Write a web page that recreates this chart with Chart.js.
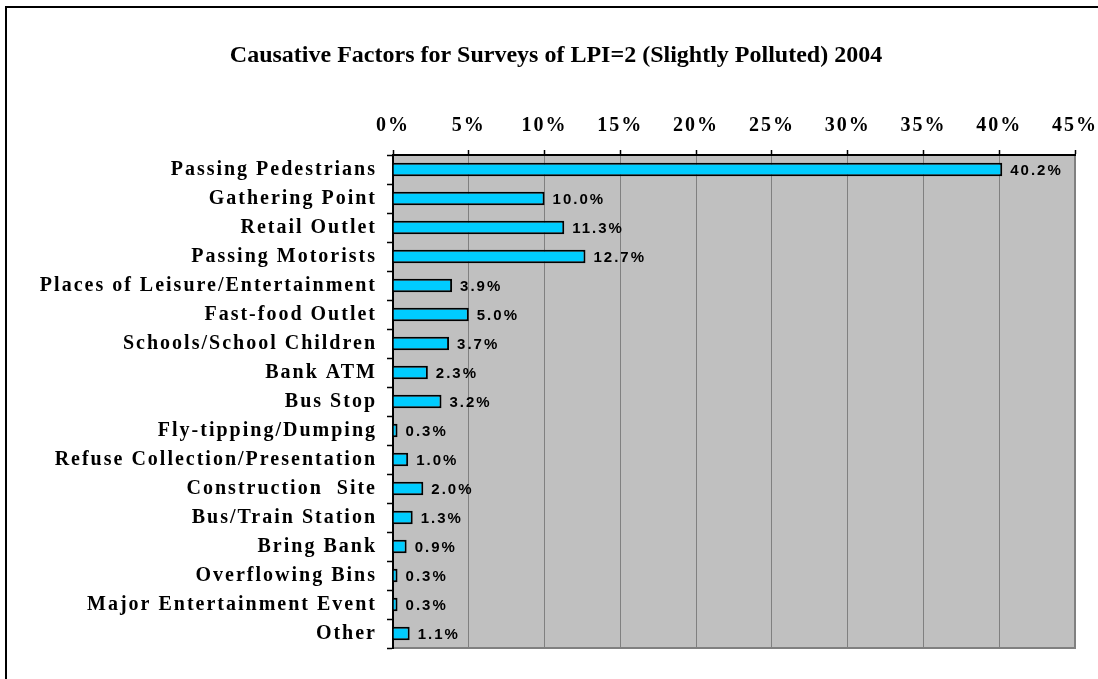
<!DOCTYPE html>
<html>
<head>
<meta charset="utf-8">
<script src="https://cdn.jsdelivr.net/npm/chart.js@4/dist/chart.umd.min.js"></script>
<style>
  html, body { margin: 0; padding: 0; background: #fff; }
  #wrap { width: 1098px; height: 679px; position: relative; }
</style>
</head>
<body>
<div id="wrap"><canvas id="js--chart--1"></canvas></div>
<script>
const categories = [
    "Passing Pedestrians",
    "Gathering Point",
    "Retail Outlet",
    "Passing Motorists",
    "Places of Leisure/Entertainment",
    "Fast-food Outlet",
    "Schools/School Children",
    "Bank ATM",
    "Bus Stop",
    "Fly-tipping/Dumping",
    "Refuse Collection/Presentation",
    "Construction  Site",
    "Bus/Train Station",
    "Bring Bank",
    "Overflowing Bins",
    "Major Entertainment Event",
    "Other",
];

const shares = [40.2, 10.0, 11.3, 12.7, 3.9, 5.0, 3.7, 2.3, 3.2, 0.3, 1.0, 2.0, 1.3, 0.9, 0.3, 0.3, 1.1];

const xTicks = [0, 5, 10, 15, 20, 25, 30, 35, 40, 45];

const titleText = "Causative Factors for Surveys of LPI=2 (Slightly Polluted) 2004";

const serif = "'Liberation Serif', 'Times New Roman', serif";
const sans = "'Liberation Sans', Arial, sans-serif";

// frame, plot background, letter spacing for the axis labels
const backdrop = {
    id: 'backdrop',
    beforeDraw(chart) {
        const ctx = chart.ctx;
        const a = chart.chartArea;
        ctx.save();
        ctx.strokeStyle = '#000';
        ctx.lineWidth = 2;
        ctx.beginPath();
        ctx.moveTo(6, 700);
        ctx.lineTo(6, 7);
        ctx.lineTo(1110, 7);
        ctx.stroke();
        ctx.fillStyle = '#C0C0C0';
        ctx.fillRect(a.left, a.top, a.right - a.left, a.bottom - a.top);
        ctx.strokeStyle = '#808080';
        ctx.lineWidth = 2;
        ctx.beginPath();
        ctx.moveTo(a.left, a.bottom);
        ctx.lineTo(a.right, a.bottom);
        ctx.lineTo(a.right, a.top);
        ctx.stroke();
        ctx.restore();
        ctx.letterSpacing = '2px';
    },
    afterDatasetsDraw(chart) {
        const ctx = chart.ctx;
        const meta = chart.getDatasetMeta(0);
        ctx.save();
        ctx.letterSpacing = '2px';
        ctx.font = 'bold 15px ' + sans;
        ctx.fillStyle = '#000';
        ctx.textAlign = 'left';
        ctx.textBaseline = 'middle';
        meta.data.forEach((bar, i) => {
            ctx.fillText(shares[i].toFixed(1) + '%', bar.x + 8, bar.y + 1);
        });
        ctx.restore();
    },
    afterDraw(chart) {
        const ctx = chart.ctx;
        ctx.save();
        ctx.letterSpacing = '0px';
        ctx.font = 'bold 24px ' + serif;
        ctx.fillStyle = '#000';
        ctx.textAlign = 'center';
        ctx.textBaseline = 'alphabetic';
        ctx.fillText(titleText, 556, 62);
        ctx.restore();
        ctx.letterSpacing = '0px';
    }
};

const data = {
    labels: categories,
    datasets: [
        {
            label: "Share of surveys",
            data: shares,
            backgroundColor: '#00CCFF',
            borderColor: '#000',
            borderWidth: 2,
            borderSkipped: 'start',
            categoryPercentage: 1,
            barPercentage: 0.47,
        }
    ]
};

const config = {
    type: 'bar',
    data: data,
    plugins: [backdrop],
    options: {
        indexAxis: 'y',
        responsive: true,
        maintainAspectRatio: false,
        animation: false,
        layout: { padding: { left: 0, top: 0, right: 23, bottom: 31 } },
        plugins: {
            legend: { display: false },
            title: { display: false },
            tooltip: { enabled: false },
        },
        scales: {
            x: {
                position: 'top',
                min: 0,
                max: 45,
                afterBuildTicks(scale) {
                    scale.ticks = xTicks.map(v => ({ value: v }));
                },
                afterFit(scale) {
                    scale.height = 155;
                    scale.paddingLeft = 0;
                    scale.paddingRight = 0;
                },
                ticks: {
                    callback: v => v + '%',
                    color: '#000',
                    padding: 12,
                    font: { family: serif, size: 20, weight: 'bold' },
                    maxRotation: 0,
                },
                grid: {
                    color: '#808080',
                    lineWidth: 1,
                    tickColor: '#000',
                    tickLength: 5,
                    tickWidth: 1.5,
                },
                border: { color: '#000', width: 2 },
            },
            y: {
                afterFit(scale) { scale.width = 393; },
                ticks: {
                    color: '#000',
                    padding: 10,
                    autoSkip: false,
                    font: { family: serif, size: 20, weight: 'bold' },
                },
                grid: {
                    drawOnChartArea: false,
                    tickColor: '#000',
                    tickLength: 6,
                    tickWidth: 1.5,
                },
                border: { color: '#000', width: 2 },
            },
        },
    },
};

new Chart(document.getElementById("js--chart--1"), config);
</script>
</body>
</html>
